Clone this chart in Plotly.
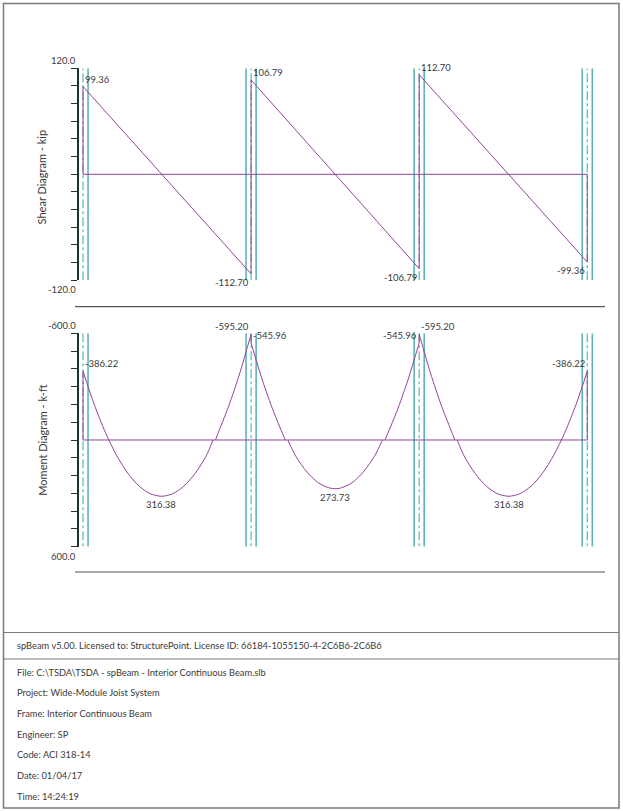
import plotly.graph_objects as go

# ---------------- data ----------------
supports_ft = [0, 30, 60, 90]
col_half_ft = 0.9

shear_x = [0, 0, 30, 30, 60, 60, 90, 90]
shear_v = [0, 99.36, -112.70, 106.79, -106.79, 112.70, -99.36, 0]

# straight jumps of the moment diagram at the joints (x, from, to)
moment_jumps_x = [0, 30, 60, 90]
moment_jumps_from = [0, -595.20, -545.96, -386.22]
moment_jumps_to = [-386.22, -545.96, -595.20, 0]

# moment branches (x in ft along the beam, k-ft, sagging positive)
m1_lo_x = [0, 2, 4, 6, 8, 10, 12, 14, 16, 18, 20, 22, 23.2]
m1_lo_v = [-386.22, -200.0, -42.4, 86.5, 186.9, 258.6, 301.8, 316.38, 302.4, 259.8, 188.6, 88.8, 0]
m1_up_x = [23.65, 24, 26, 28, 30]
m1_up_v = [0, -30, -190, -378, -595.20]

m2_upL_x = [30, 32, 34, 36.1]
m2_upL_v = [-545.96, -338, -160, 0]
m2_lo_x = [36.55, 38, 40, 42, 44, 45, 46, 48, 50, 52, 53.45]
m2_lo_v = [0, 92, 181, 240.9, 270.1, 273.73, 270.1, 240.9, 181, 92, 0]
m2_upR_x = [53.9, 56, 58, 60]
m2_upR_v = [0, -160, -338, -545.96]

m3_up_x = [60, 62, 64, 66, 66.35]
m3_up_v = [-595.20, -378, -190, -30, 0]
m3_lo_x = [66.8, 68, 70, 72, 74, 76, 78, 80, 82, 84, 86, 88, 90]
m3_lo_v = [0, 88.8, 188.6, 259.8, 302.4, 316.38, 301.8, 258.6, 186.9, 86.5, -42.4, -200.0, -386.22]

shear_labels = [  # text, x, y, xanchor, yanchor
    ("99.36", 0, 99.36, "left", "bottom"),
    ("-112.70", 30, -112.70, "right", "top"),
    ("106.79", 30, 106.79, "left", "bottom"),
    ("-106.79", 60, -106.79, "right", "top"),
    ("112.70", 60, 112.70, "left", "bottom"),
    ("-99.36", 90, -99.36, "right", "top"),
]
moment_labels = [
    ("-386.22", 0, -386.22, "left", "bottom"),
    ("316.38", 14, 316.38, "center", "top"),
    ("-595.20", 30, -595.20, "right", "bottom"),
    ("-545.96", 30, -545.96, "left", "bottom"),
    ("273.73", 45, 273.73, "center", "top"),
    ("-545.96", 60, -545.96, "right", "bottom"),
    ("-595.20", 60, -595.20, "left", "bottom"),
    ("316.38", 76, 316.38, "center", "top"),
    ("-386.22", 90, -386.22, "right", "bottom"),
]
shear_range = [-120, 120]
moment_range = [600, -600]

footer_license = "spBeam v5.00. Licensed to: StructurePoint. License ID: 66184-1055150-4-2C6B6-2C6B6"
footer_lines = [
    "File: C:\\TSDA\\TSDA - spBeam - Interior Continuous Beam.slb",
    "Project: Wide-Module Joist System",
    "Frame: Interior Continuous Beam",
    "Engineer: SP",
    "Code: ACI 318-14",
    "Date: 01/04/17",
    "Time: 14:24:19",
]

# ---------------- style ----------------
W, H = 623, 811
PURPLE = "#93439a"
TEAL = "#5fb4b6"
AXIS = "#1e3434"
TXT = "#3a3a3a"
FONT = "Lato"

px_per_ft = 5.603
x0_px = 83.0
xr = [(0 - x0_px) / px_per_ft, (W - x0_px) / px_per_ft]

def py(p):  # pixel from top -> paper
    return 1 - p / H

def pxp(p):
    return p / W

fig = go.Figure()

line_kw = dict(color=PURPLE, width=1)
fig.add_trace(go.Scatter(x=shear_x, y=shear_v, mode="lines", line=line_kw, xaxis="x", yaxis="y"))
fig.add_trace(go.Scatter(x=[supports_ft[0], supports_ft[-1]], y=[0, 0], mode="lines", line=line_kw, xaxis="x", yaxis="y"))
fig.add_trace(go.Scatter(x=[supports_ft[0], supports_ft[-1]], y=[0, 0], mode="lines", line=line_kw, xaxis="x", yaxis="y2"))
for jx, ja, jb in zip(moment_jumps_x, moment_jumps_from, moment_jumps_to):
    fig.add_trace(go.Scatter(x=[jx, jx], y=[ja, jb], mode="lines", line=line_kw, xaxis="x", yaxis="y2"))
for bx, bv in [(m1_lo_x, m1_lo_v), (m1_up_x, m1_up_v), (m2_upL_x, m2_upL_v), (m2_lo_x, m2_lo_v),
               (m2_upR_x, m2_upR_v), (m3_up_x, m3_up_v), (m3_lo_x, m3_lo_v)]:
    fig.add_trace(go.Scatter(x=bx, y=bv, mode="lines", line=dict(color=PURPLE, width=1, shape="spline", smoothing=0.8),
                             xaxis="x", yaxis="y2"))

shapes = []
for yref, rng in [("y", shear_range), ("y2", moment_range)]:
    lo, hi = min(rng), max(rng)
    for s in supports_ft:
        faces = [s - col_half_ft, s + col_half_ft]
        for f in faces:
            shapes.append(dict(type="line", xref="x", yref=yref, x0=f, x1=f, y0=lo, y1=hi,
                               line=dict(color=TEAL, width=1.6), layer="below"))
        shapes.append(dict(type="line", xref="x", yref=yref, x0=s, x1=s, y0=lo, y1=hi,
                           line=dict(color=TEAL, width=1.2, dash="dashdot"), layer="below"))

# separators and border
for ypix in [306.7, 572.0]:
    shapes.append(dict(type="line", xref="paper", yref="paper", x0=pxp(75), x1=pxp(605), y0=py(ypix), y1=py(ypix),
                       line=dict(color="#555555", width=1.2)))
shapes.append(dict(type="rect", xref="paper", yref="paper", x0=pxp(3.5), x1=pxp(619), y0=py(3.5), y1=py(808),
                   line=dict(color="#7a7a7a", width=1.5)))
for ypix in [632.5, 659.0]:
    shapes.append(dict(type="line", xref="paper", yref="paper", x0=pxp(3.5), x1=pxp(619), y0=py(ypix), y1=py(ypix),
                       line=dict(color="#7a7a7a", width=1.2)))

ann = []
lab_font = dict(family=FONT, size=9.5, color=TXT)
for t, x, y, xa, ya in shear_labels:
    ann.append(dict(text=t, x=x, y=y, xref="x", yref="y", xanchor=xa, yanchor=ya, showarrow=False,
                    font=lab_font, yshift=(-1 if ya == "top" else 0)))
for t, x, y, xa, ya in moment_labels:
    ann.append(dict(text=t, x=x, y=y, xref="x", yref="y2", xanchor=xa, yanchor=ya, showarrow=False,
                    font=lab_font, yshift=(-1 if ya == "top" else 0)))

axis_x_ft = supports_ft[0] - col_half_ft
for yref, val, ya in [("y", shear_range[1], "bottom"), ("y", shear_range[0], "top"),
                      ("y2", moment_range[1], "bottom"), ("y2", moment_range[0], "top")]:
    ann.append(dict(text=f"{val:.1f}", x=axis_x_ft, y=val, xref="x", yref=yref, xanchor="right", yanchor=ya,
                    showarrow=False, font=lab_font, yshift=(-2 if ya == "top" else 0)))

title_font = dict(family=FONT, size=11, color=TXT)
ann.append(dict(text="Shear Diagram - kip", x=pxp(41.7), y=py(176.7), xref="paper", yref="paper",
                xanchor="center", yanchor="middle", textangle=-90, showarrow=False, font=title_font))
ann.append(dict(text="Moment Diagram - k-ft", x=pxp(41.7), y=py(440), xref="paper", yref="paper",
                xanchor="center", yanchor="middle", textangle=-90, showarrow=False, font=title_font))

foot_font = dict(family=FONT, size=9.3, color=TXT)
ann.append(dict(text=footer_license, x=pxp(15), y=py(645.5), xref="paper", yref="paper", xanchor="left",
                yanchor="middle", showarrow=False, font=foot_font))
for i, t in enumerate(footer_lines):
    ann.append(dict(text=t, x=pxp(15), y=py(672 + i * 20.7), xref="paper", yref="paper", xanchor="left",
                    yanchor="middle", showarrow=False, font=foot_font))

axis_pos = pxp(x0_px + axis_x_ft * px_per_ft)
common_y = dict(showgrid=False, zeroline=False, showticklabels=False, showline=True, linecolor=AXIS, linewidth=1.6,
                ticks="outside", ticklen=6, tickcolor=AXIS, tickwidth=1, anchor="free", position=axis_pos)

fig.update_layout(
    width=W, height=H, margin=dict(l=0, r=0, t=0, b=0, pad=0),
    paper_bgcolor="white", plot_bgcolor="rgba(0,0,0,0)", showlegend=False,
    xaxis=dict(domain=[0, 1], range=xr, visible=False, anchor="y"),
    yaxis=dict(domain=[py(280.3), py(68.3)], range=shear_range, dtick=20, tick0=0, **common_y),
    yaxis2=dict(domain=[py(546.7), py(333.3)], range=moment_range, dtick=100, tick0=0, **common_y),
    shapes=shapes, annotations=ann,
)

fig.write_html("out.html", config={"displayModeBar": False},
               post_script="document.body.style.margin='0px';document.body.style.overflow='hidden';")
